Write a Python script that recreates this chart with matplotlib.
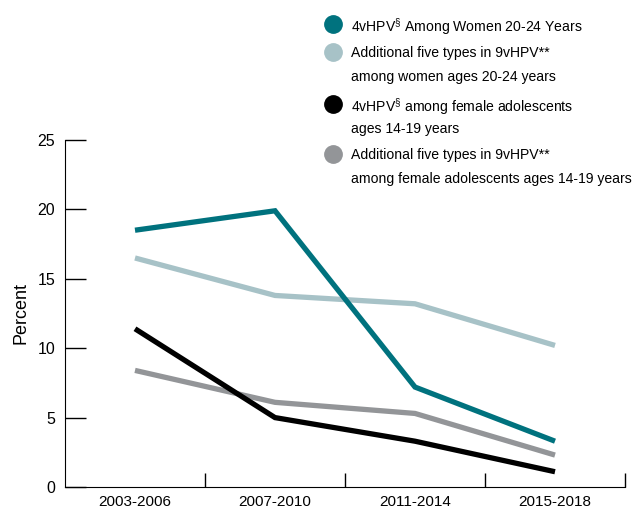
import matplotlib.pyplot as plt
from matplotlib.lines import Line2D

font = 'Liberation Sans'
plt.rcParams['font.family'] = [font, 'DejaVu Sans']
plt.rcParams['mathtext.fontset'] = 'custom'
plt.rcParams['mathtext.rm'] = font
plt.rcParams['mathtext.it'] = font

periods = ['2003-2006', '2007-2010', '2011-2014', '2015-2018']
women_4v = [18.5, 19.9, 7.2, 3.3]
women_add5 = [16.5, 13.8, 13.2, 10.2]
teens_4v = [11.4, 5.0, 3.3, 1.1]
teens_add5 = [8.4, 6.1, 5.3, 2.3]

series = [
    (women_4v, '#00727e', ['4vHPV$^{\\S}$ Among Women 20-24 Years']),
    (women_add5, '#a7c2c7', ['Additional five types in 9vHPV**',
                             'among women ages 20-24 years']),
    (teens_4v, '#000000', ['4vHPV$^{\\S}$ among female adolescents',
                           'ages 14-19 years']),
    (teens_add5, '#939598', ['Additional five types in 9vHPV**',
                             'among female adolescents ages 14-19 years']),
]

W, H = 644, 512
fig = plt.figure(figsize=(W / 100, H / 100), dpi=100)
ax = fig.add_axes([65 / W, 1 - 487 / H, 560 / W, 347 / H])

x = list(range(len(periods)))
# draw order: keep teal on top
for vals, col, lab in [series[3], series[1], series[2], series[0]]:
    ax.plot(x, vals, color=col, lw=3.8, solid_capstyle='butt', solid_joinstyle='miter')

ax.set_xlim(-0.5, 3.5)
ax.set_ylim(0, 25)
ax.set_yticks([0, 5, 10, 15, 20, 25])
ax.set_xticks(x)
ax.set_xticklabels(periods)
ax.set_xticks([0.5, 1.5, 2.5, 3.5], minor=True)
ax.tick_params(axis='y', direction='in', length=15, width=1, labelsize=11.5, pad=7)
ax.tick_params(axis='x', which='major', length=0, labelsize=11, pad=6)
ax.tick_params(axis='x', which='minor', direction='in', length=10, width=1)
ax.spines['top'].set_visible(False)
ax.spines['right'].set_visible(False)
ax.set_ylabel('Percent', fontsize=13, labelpad=6)

# legend drawn by hand so the dot sits beside the first line
rows = [24, 52, 104, 154]
for (vals, col, lines), y in zip(series, rows):
    fig.add_artist(Line2D([333 / W], [1 - y / H], marker='o', ms=12.5, color=col,
                          ls='none', transform=fig.transFigure))
    for i, line in enumerate(lines):
        fig.text(351 / W, 1 - (y + 23 * i) / H, line, fontsize=10.1,
                 va='center_baseline', ha='left')

fig.savefig('out.png', dpi=100)
